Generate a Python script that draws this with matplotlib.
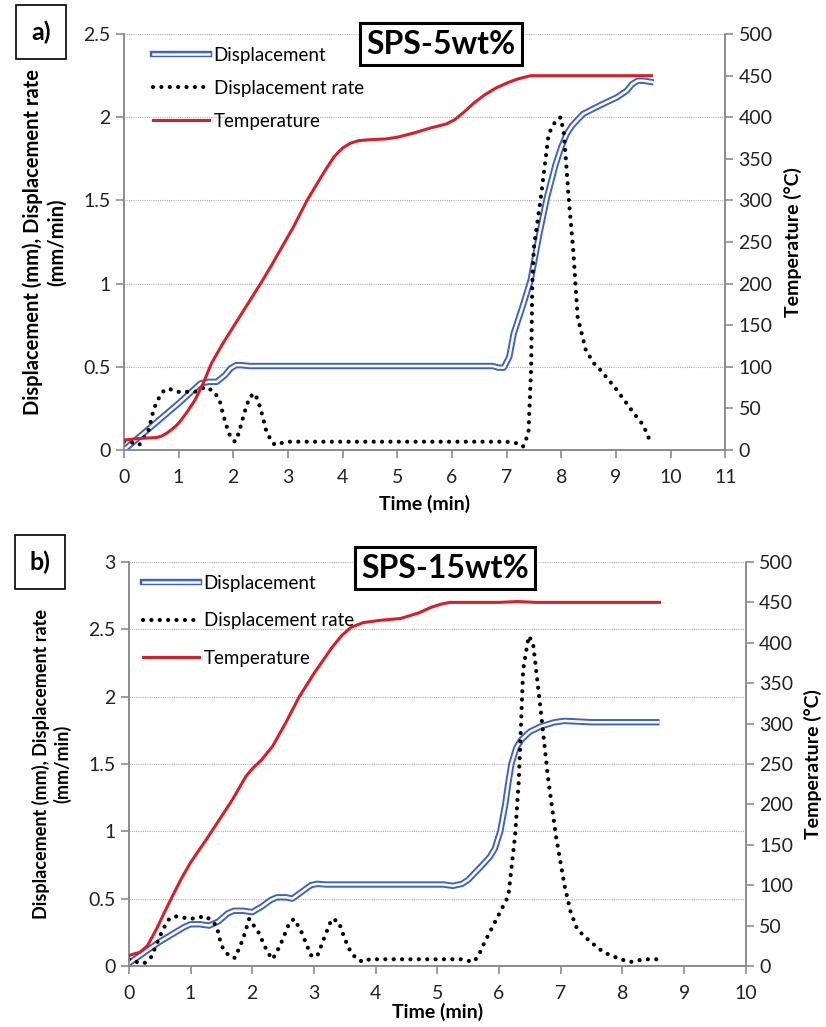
import matplotlib
matplotlib.use("Agg")
import matplotlib.pyplot as plt
from matplotlib.lines import Line2D
from matplotlib.legend_handler import HandlerTuple

plt.rcParams["font.family"] = ["Lato", "DejaVu Sans"]

# ---------------- panel a) SPS-5wt% ----------------
t_temp_a = [0, 0.3, 0.6, 0.7, 0.8, 0.9, 1.0, 1.15, 1.3, 1.45, 1.6, 1.8, 2.0,
            2.25, 2.5, 2.7, 2.9, 3.1, 3.35, 3.55, 3.7, 3.85, 4.0, 4.15, 4.3,
            4.5, 4.8, 5.0, 5.3, 5.6, 5.9, 6.05, 6.2, 6.4, 6.6, 6.8, 7.0,
            7.2, 7.44, 8.0, 9.0, 9.65]
temp_a = [12, 14, 15, 17, 21, 26, 32, 45, 60, 80, 104, 127, 148,
          174, 200, 222, 245, 268, 300, 322, 338, 353, 363, 369, 372,
          373, 374, 376, 381, 387, 392, 397, 405, 417, 427, 435, 441,
          446, 450, 450, 450, 450]

t_disp_a = [0, 0.5, 1.0, 1.3, 1.4, 1.55, 1.7, 1.85, 1.95, 2.05, 2.15, 2.3,
            3, 4, 5, 6, 6.75, 6.85, 6.95, 7.05, 7.13, 7.3, 7.44, 7.6, 7.74,
            7.9, 8.0, 8.1, 8.2, 8.4, 8.7, 9.02, 9.2, 9.3, 9.4, 9.5, 9.69]
disp_a = [0.0, 0.14, 0.28, 0.37, 0.40, 0.41, 0.41, 0.45, 0.49, 0.51, 0.51,
          0.505, 0.505, 0.505, 0.505, 0.505, 0.505, 0.495, 0.495, 0.56, 0.7,
          0.87, 1.02, 1.3, 1.52, 1.72, 1.82, 1.9, 1.95, 2.02, 2.07, 2.12,
          2.16, 2.2, 2.22, 2.22, 2.21]

t_rate_a = [0, 0.1, 0.28, 0.45, 0.55, 0.65, 0.71, 0.8, 1.0, 1.3, 1.5, 1.65,
            1.75, 1.81, 1.9, 1.95, 2.03, 2.1, 2.2, 2.3, 2.4, 2.5, 2.6, 2.7,
            2.77, 2.85, 3.0, 4, 5, 6, 7.0, 7.2, 7.3, 7.4, 7.45, 7.47, 7.5,
            7.62, 7.77, 7.9, 7.99, 8.05, 8.14, 8.22, 8.3, 8.45, 8.6, 8.72,
            9.02, 9.33, 9.5, 9.63]
rate_a = [0.05, 0.05, 0.03, 0.12, 0.25, 0.32, 0.35, 0.37, 0.35, 0.35, 0.38,
          0.35, 0.3, 0.22, 0.12, 0.08, 0.05, 0.1, 0.22, 0.32, 0.34, 0.25,
          0.12, 0.05, 0.03, 0.04, 0.05, 0.05, 0.05, 0.05, 0.05, 0.04, 0.02,
          0.1, 0.5, 1.0, 1.22, 1.5, 1.9, 1.98, 2.0, 1.9, 1.5, 1.2, 0.8, 0.6,
          0.52, 0.48, 0.36, 0.22, 0.15, 0.05]

# ---------------- panel b) SPS-15wt% ----------------
t_temp_b = [0, 0.18, 0.3, 0.45, 0.6, 0.71, 0.85, 1.0, 1.26, 1.5, 1.68, 1.9,
            2.0, 2.15, 2.33, 2.55, 2.76, 3.0, 3.3, 3.45, 3.6, 3.8, 4.1,
            4.4, 4.7, 4.9, 5.07, 5.2, 5.34, 6.0, 6.3, 6.6, 7.0, 8.6]
temp_b = [13, 17, 25, 46, 70, 87, 108, 128, 157, 185, 206, 235,
          244, 255, 272, 302, 333, 362, 395, 409, 419, 425, 428,
          430, 437, 444, 448, 450, 450, 450, 451, 450, 450, 450]

t_disp_b = [0, 0.5, 0.9, 1.0, 1.15, 1.3, 1.45, 1.6, 1.7, 1.85, 2.0, 2.15,
            2.3, 2.4, 2.55, 2.65, 2.8, 2.95, 3.05, 3.2, 3.3, 4, 5, 5.1, 5.25,
            5.4, 5.5, 5.71, 5.85, 5.93, 6.02, 6.1, 6.15, 6.2, 6.28, 6.36,
            6.5, 6.68, 6.9, 7.06, 7.5, 8.6]
disp_b = [0.02, 0.18, 0.29, 0.31, 0.31, 0.3, 0.33, 0.39, 0.41, 0.41, 0.40,
          0.44, 0.49, 0.51, 0.51, 0.5, 0.55, 0.6, 0.61, 0.605, 0.605, 0.605,
          0.605, 0.605, 0.595, 0.61, 0.64, 0.74, 0.81, 0.87, 1.0, 1.2, 1.36,
          1.5, 1.62, 1.68, 1.74, 1.78, 1.81, 1.82, 1.81, 1.81]

t_rate_b = [0, 0.12, 0.25, 0.37, 0.5, 0.63, 0.74, 1.0, 1.25, 1.42, 1.5, 1.63,
            1.72, 1.85, 1.95, 2.1, 2.25, 2.33, 2.45, 2.6, 2.68, 2.8, 2.95,
            3.05, 3.2, 3.29, 3.4, 3.5, 3.6, 3.7, 3.8, 3.9, 4.5, 5.0, 5.4,
            5.58, 5.66, 5.77, 5.96, 6.15, 6.26, 6.32, 6.39, 6.48, 6.55, 6.66,
            6.79, 6.92, 7.06, 7.16, 7.27, 7.48, 7.7, 7.97, 8.13, 8.35, 8.6]
rate_b = [0.05, 0.03, 0.02, 0.07, 0.22, 0.34, 0.37, 0.35, 0.37, 0.3, 0.15,
          0.07, 0.06, 0.2, 0.35, 0.25, 0.1, 0.05, 0.15, 0.32, 0.35, 0.25,
          0.08, 0.07, 0.25, 0.35, 0.33, 0.2, 0.1, 0.05, 0.03, 0.05, 0.05,
          0.05, 0.05, 0.03, 0.07, 0.18, 0.35, 0.52, 0.97, 1.38, 2.2, 2.45,
          2.4, 1.96, 1.41, 0.97, 0.6, 0.4, 0.27, 0.18, 0.1, 0.05, 0.03, 0.05,
          0.05]

BLUE = "#3f62c4"
RED = "#d42027"
GREY = "#8c8c8c"


def draw_panel(rect, t_d, d, t_r, r, t_t, temp, ymax, xmax, tag, title,
               tag_xy, title_xy, xlabelpad, ylab_size, leg_space, leg_x):
    ax = fig.add_axes(rect)
    ax2 = ax.twinx()

    # displacement: double line (blue outline, white core)
    ax.plot(t_d, d, color=BLUE, lw=4.6, solid_capstyle="butt", zorder=3)
    ax.plot(t_d, d, color="white", lw=1.8, solid_capstyle="butt", zorder=4)
    # displacement rate: round dots
    ax.plot(t_r, r, color="black", lw=3.0, linestyle=(0, (0.01, 2.0)),
            dash_capstyle="round", zorder=5)
    # temperature on the right axis
    ax2.plot(t_t, temp, color=RED, lw=2.2, zorder=3)

    ax.set_xlim(0, xmax)
    ax.set_ylim(0, ymax)
    ax2.set_ylim(0, 500)
    ax.set_xticks(range(0, xmax + 1))
    ax.set_yticks([i * 0.5 for i in range(int(ymax / 0.5) + 1)])
    ax.set_yticklabels([f"{v:g}" for v in ax.get_yticks()])
    ax2.set_yticks(range(0, 501, 50))

    ax.grid(axis="y", color="#b0b0b0", linestyle=(0, (1, 1)), lw=0.8)
    ax.set_axisbelow(True)

    for a in (ax, ax2):
        a.spines["top"].set_visible(False)
        for s in ("left", "right", "bottom"):
            a.spines[s].set_color(GREY)
            a.spines[s].set_linewidth(1.2)
        a.tick_params(colors=GREY, labelcolor="#222222", labelsize=14,
                      length=6, width=1.2)
    ax.tick_params(axis="x", pad=8)

    ax.set_xlabel("Time (min)", fontsize=14, fontweight="bold",
                  labelpad=xlabelpad)
    ax.set_ylabel("Displacement (mm), Displacement rate\n(mm/min)",
                  fontsize=ylab_size, fontweight="bold", linespacing=1.25,
                  labelpad=12)
    ax2.set_ylabel("Temperature (°C)", fontsize=14, fontweight="bold",
                   labelpad=8)

    h_disp = (Line2D([], [], color=BLUE, lw=4.6),
              Line2D([], [], color="white", lw=1.8))
    h_rate = Line2D([], [], color="black", lw=3.0,
                    linestyle=(0, (0.01, 2.0)), dash_capstyle="round")
    h_temp = Line2D([], [], color=RED, lw=2.2)
    ax2.legend([h_disp, h_rate, h_temp],
               ["Displacement", "Displacement rate", "Temperature"],
               handler_map={tuple: HandlerTuple(ndivide=1, pad=0)},
               loc="upper left", bbox_to_anchor=(leg_x, 1.01), frameon=False,
               fontsize=13.5, handlelength=3.0, handletextpad=0.25,
               labelspacing=leg_space)

    fig.text(tag_xy[0], tag_xy[1], tag, fontsize=18, fontweight="bold",
             ha="center", va="center", bbox=dict(boxstyle="square,pad=0.6",
                                                 facecolor="white",
                                                 edgecolor="black", lw=1.2))
    fig.text(title_xy[0], title_xy[1], title, fontsize=23, fontweight="bold",
             ha="center", va="center",
             bbox=dict(boxstyle="square,pad=0.2", facecolor="white",
                       edgecolor="black", lw=2.2))
    return ax, ax2


fig = plt.figure(figsize=(8.26, 10.27), dpi=100)

draw_panel([0.150, 0.5618, 0.728, 0.405], t_disp_a, disp_a, t_rate_a, rate_a,
           t_temp_a, temp_a, 2.5, 11, "a)", "SPS-5wt%",
           (41 / 826, 1 - 32 / 1027), (441 / 826, 1 - 44 / 1027), 6, 14.5,
           0.85, 0.02)
draw_panel([0.156, 0.0594, 0.747, 0.3934], t_disp_b, disp_b, t_rate_b, rate_b,
           t_temp_b, temp_b, 3, 10, "b)", "SPS-15wt%",
           (40 / 826, 1 - 562 / 1027), (445 / 826, 1 - 568 / 1027), 0, 13,
           1.1, -0.005)

fig.savefig("out.png", dpi=100)
